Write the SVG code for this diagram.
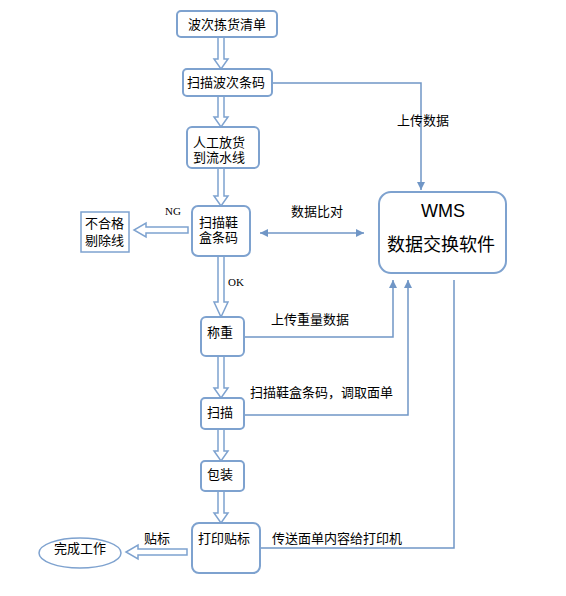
<svg xmlns="http://www.w3.org/2000/svg" width="566" height="596" viewBox="0 0 566 596">
<defs>
<marker id="ah" viewBox="0 0 10 10" refX="10" refY="5" markerWidth="8" markerHeight="8" markerUnits="userSpaceOnUse" orient="auto-start-reverse">
<path d="M0,0 L10,5 L0,10 z" fill="#7096c6"/>
</marker>
<style>
.box{fill:#fff;stroke:#7ea2cf;stroke-width:2}
.sq{fill:#fff;stroke:#7ea2cf;stroke-width:1.5}
.t{font-family:"Liberation Sans","Noto Sans CJK SC",sans-serif;font-size:13px;fill:#000}
.big{font-family:"Liberation Sans","Noto Sans CJK SC",sans-serif;font-size:18px;fill:#000}
.lat{font-family:"Liberation Serif","DejaVu Serif",serif;font-size:11px;fill:#000}
.ln{fill:none;stroke:#7096c6;stroke-width:1.5}
.ha{fill:#fff;stroke:#7ea2cf;stroke-width:1.5}
</style>
</defs>
<rect width="566" height="596" fill="#fff"/>
<g id="connectors">
<polygon class="ha" points="218,37 224,37 224,59 228,59 221,69 214,59 218,59"/>
<polygon class="ha" points="218,96 224,96 224,117 228,117 221,127 214,117 218,117"/>
<polygon class="ha" points="218,168 224,168 224,196 228,196 221,206 214,196 218,196"/>
<polygon class="ha" points="218,256 224,256 224,302 228,302 221,317 214,302 218,302"/>
<polygon class="ha" points="218,356 224,356 224,388 228,388 221,398 214,388 218,388"/>
<polygon class="ha" points="218,429 224,429 224,451 228,451 221,461 214,451 218,451"/>
<polygon class="ha" points="218,491 224,491 224,513 228,513 221,523 214,513 218,513"/>
<polygon class="ha" points="188,227 188,233 146,233 146,237 134,230 146,223 146,227"/>
<polygon class="ha" points="187,549 187,555 138,555 138,559 126,552 138,545 138,549"/>
<polyline class="ln" points="272,83 421,83 421,190" marker-end="url(#ah)"/>
<line class="ln" x1="260" y1="233" x2="364" y2="233" marker-start="url(#ah)" marker-end="url(#ah)"/>
<polyline class="ln" points="244,337 393,337 393,280" marker-end="url(#ah)"/>
<polyline class="ln" points="244,415 408,415 408,280" marker-end="url(#ah)"/>
<polyline class="ln" points="454,280 454,548 252,548" marker-end="url(#ah)"/>
<text class="t" x="397" y="125">上传数据</text>
<text class="t" x="291" y="216">数据比对</text>
<text class="t" x="271" y="324">上传重量数据</text>
<text class="t" x="250" y="397">扫描鞋盒条码，调取面单</text>
<text class="t" x="272" y="543">传送面单内容给打印机</text>
<text class="t" x="144" y="543">贴标</text>
<text class="lat" x="165" y="215">NG</text>
<text class="lat" x="228" y="286">OK</text>
</g>
<g id="n1"><rect class="box" x="177" y="11" width="100" height="26" rx="4"/><text class="t" x="227" y="29" text-anchor="middle">波次拣货清单</text></g>
<g id="n2"><rect class="box" x="183" y="69" width="89" height="27" rx="4"/><text class="t" x="187" y="87">扫描波次条码</text></g>
<g id="n3"><rect class="box" x="187" y="127" width="72" height="41" rx="5"/><text class="t" x="193" y="147">人工放货</text><text class="t" x="193" y="162">到流水线</text></g>
<g id="n4"><rect class="box" x="192" y="206" width="58" height="50" rx="6"/><text class="t" x="199" y="227">扫描鞋</text><text class="t" x="199" y="242">盒条码</text></g>
<g id="n5"><rect class="sq" x="81" y="212" width="48" height="40"/><text class="t" x="85" y="228">不合格</text><text class="t" x="85" y="245">剔除线</text></g>
<g id="n6"><rect class="box" x="201" y="317" width="43" height="39" rx="5"/><text class="t" x="207" y="337">称重</text></g>
<g id="n7"><rect class="box" x="201" y="398" width="43" height="31" rx="4"/><text class="t" x="207" y="417">扫描</text></g>
<g id="n8"><rect class="box" x="201" y="461" width="43" height="30" rx="4"/><text class="t" x="207" y="479">包装</text></g>
<g id="n9"><rect class="box" x="192" y="523" width="68" height="50" rx="7"/><text class="t" x="198" y="543">打印贴标</text></g>
<g id="n10"><ellipse class="sq" cx="80" cy="553" rx="41" ry="15"/><text class="t" x="80" y="553" text-anchor="middle">完成工作</text></g>
<g id="wms"><rect class="box" x="379" y="192" width="127" height="81" rx="12"/><text class="big" x="443" y="217" text-anchor="middle">WMS</text><text class="big" x="441" y="251" text-anchor="middle">数据交换软件</text></g>
</svg>
